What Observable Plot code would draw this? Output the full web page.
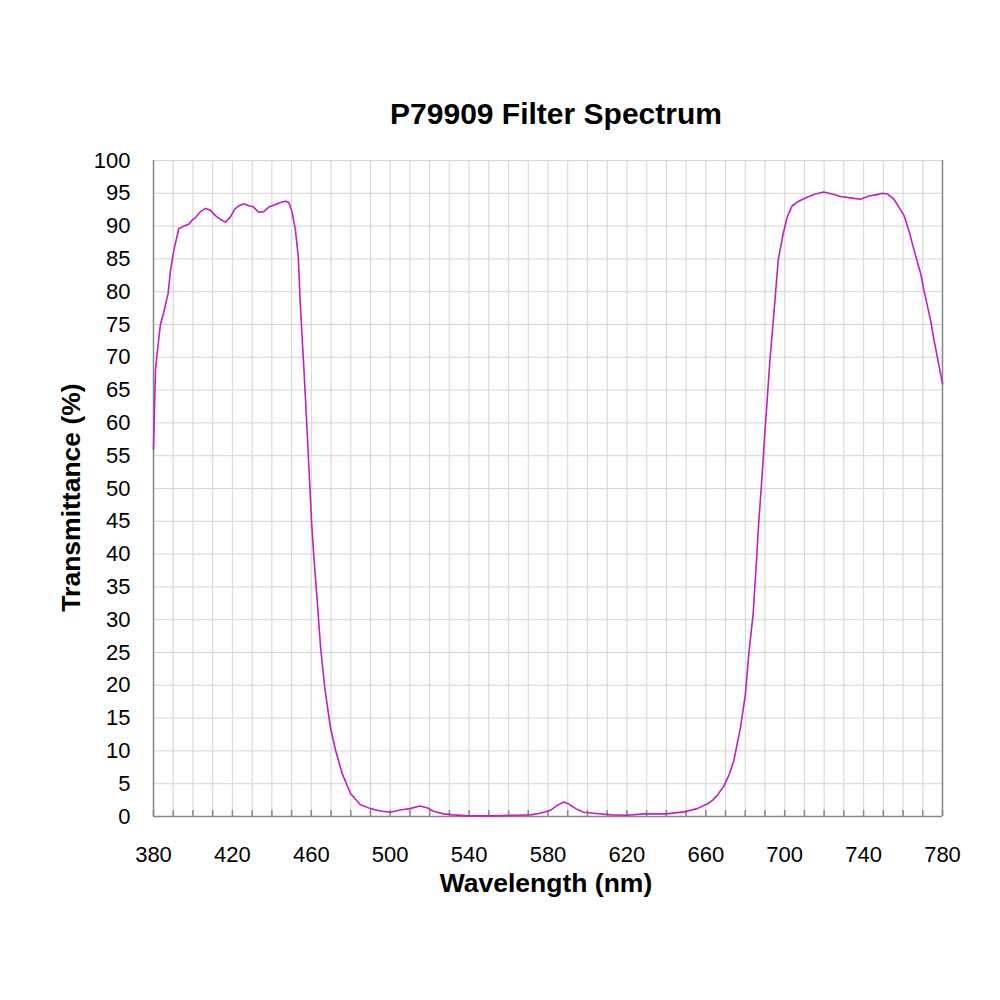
<!DOCTYPE html>
<html>
<head>
<meta charset="utf-8">
<script src="https://cdn.jsdelivr.net/npm/d3@7"></script>
<script src="https://cdn.jsdelivr.net/npm/@observablehq/plot@0.6"></script>
<style>
  html, body { margin: 0; padding: 0; background: #fff; }
  #chart { width: 1000px; height: 1000px; }
</style>
</head>
<body>
<div id="chart"></div>
<script>
const title = "P79909 Filter Spectrum";
const xLabel = "Wavelength (nm)";
const yLabel = "Transmittance (%)";

const wavelength = [
  380, 381, 382, 383.5, 385, 387.4, 388.6, 390.3, 392.8, 395.4, 397.9, 399.6, 401.3, 403.8,
  406.4, 408.9, 411.4, 414, 416.5, 419, 421.2, 423.3, 425.8, 428.3, 430.3, 433.4, 435.9,
  438.5, 441.9, 444.4, 447, 448.6, 450.3, 452, 453.4, 454.5, 456.2, 457.1, 458.8, 460.1,
  461.3, 463, 464.7, 466.8, 469.7, 472.3, 475.7, 479.9, 484.9, 490, 495, 500, 505, 510,
  515, 519, 522, 527, 532, 540, 552, 564, 571, 576, 581, 584.7, 588, 590.6, 594, 598, 603,
  612, 620, 628.6, 640, 649, 655.6, 660.7, 663.5, 666, 669.1, 672, 674.2, 677.6, 680.1,
  681.8, 684, 685.7, 686.9, 688.6, 689.9, 691, 692.5, 694.5, 696.7, 699.2, 701.3, 703.8,
  707.1, 711.4, 715.6, 719.8, 724.1, 728.3, 733.4, 738.4, 742.7, 746.9, 749.5, 752, 755.4,
  757.9, 760.5, 763, 765.6, 769, 770.6, 774, 775.7, 780
];
const transmittance = [
  56, 68, 71, 75, 76.6, 79.7, 83.2, 86.3, 89.6, 90.0, 90.3, 90.9, 91.3, 92.2,
  92.7, 92.4, 91.6, 91.0, 90.6, 91.4, 92.6, 93.1, 93.4, 93.1, 93.0, 92.1, 92.2,
  92.9, 93.3, 93.6, 93.8, 93.6, 92.1, 89.3, 85.3, 77.6, 68.5, 63.4, 53.2, 45.1,
  39.5, 32.9, 25.8, 19.7, 13.6, 10.1, 6.5, 3.5, 1.8, 1.2, 0.85, 0.65, 1.0, 1.2,
  1.6, 1.3, 0.8, 0.4, 0.25, 0.1, 0.1, 0.2, 0.25, 0.5, 0.9, 1.7, 2.2, 1.9, 1.2, 0.65, 0.5,
  0.25, 0.2, 0.4, 0.4, 0.7, 1.2, 1.9, 2.5, 3.3, 4.6, 6.5, 8.5, 13.6, 18.7,
  24.8, 30.9, 39.0, 45.1, 52.2, 58.3, 63, 69.5, 76.6, 84.8, 88.8, 91.4, 93.1,
  93.8, 94.4, 94.9, 95.2, 94.9, 94.5, 94.3, 94.1, 94.6, 94.8, 95.0, 94.9, 94.1,
  92.9, 91.6, 89.3, 86.3, 82.7, 80.2, 75.6, 72.6, 66
];

const xTickLabels = [380, 420, 460, 500, 540, 580, 620, 660, 700, 740, 780];
const xGridTicks = d3.range(380, 781, 10);
const yTicks = d3.range(0, 101, 5);

const data = wavelength.map((w, i) => ({w, t: transmittance[i]}));

const font = "'Liberation Sans', Arial, sans-serif";

const chart = Plot.plot({
  width: 1000,
  height: 1000,
  marginLeft: 153,
  marginRight: 58,
  marginTop: 160,
  marginBottom: 184,
  style: {fontFamily: font, fontSize: "22px", color: "#000", background: "#fff"},
  x: {domain: [380, 780]},
  y: {domain: [0, 100]},
  marks: [
    Plot.gridY(yTicks, {stroke: "#d4d4d4", strokeOpacity: 1, strokeWidth: 1}),
    Plot.gridX(xGridTicks, {stroke: "#d4d4d4", strokeOpacity: 1, strokeWidth: 1}),
    Plot.ruleX([380], {stroke: "#868686", strokeWidth: 1.5}),
    Plot.ruleX([780], {stroke: "#868686", strokeWidth: 1.5}),
    Plot.ruleY([0], {stroke: "#868686", strokeWidth: 1.5}),
    Plot.axisX(xGridTicks, {tickSize: -6, tickFormat: () => "", stroke: "#868686", strokeWidth: 1.5, label: null}),
    Plot.axisX(xTickLabels, {tickSize: 0, tickPadding: 30, fontSize: 22, label: null}),
    Plot.axisY(yTicks, {tickSize: 0, tickPadding: 23, fontSize: 22, label: null}),
    Plot.line(data, {x: "w", y: "t", stroke: "#c020c0", strokeWidth: 1.6}),
    Plot.text([title], {text: d => d, frameAnchor: "top", dx: 8, dy: -37, lineAnchor: "bottom",
      fontSize: 30, fontWeight: "bold", fill: "#000"}),
    Plot.text([xLabel], {text: d => d, frameAnchor: "bottom", dx: -2, dy: 75, lineAnchor: "bottom",
      fontSize: 26.5, fontWeight: "bold", fill: "#000"}),
    Plot.text([yLabel], {text: d => d, frameAnchor: "left", dx: -82, dy: 9, rotate: -90,
      textAnchor: "middle", lineAnchor: "middle",
      fontSize: 26.5, fontWeight: "bold", fill: "#000"})
  ]
});
document.getElementById("chart").appendChild(chart);
</script>
</body>
</html>
